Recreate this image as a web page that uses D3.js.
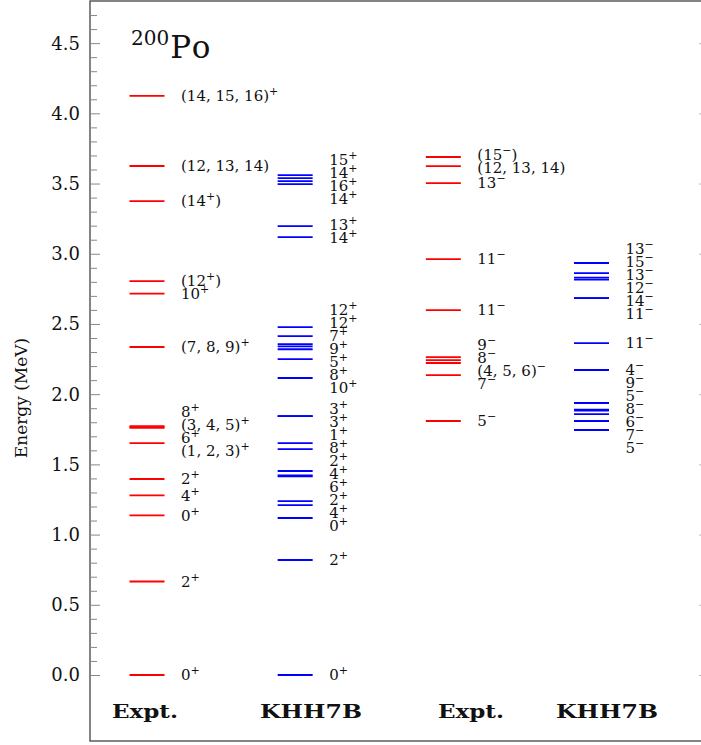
<!DOCTYPE html>
<html><head><meta charset="utf-8">
<script src="https://cdn.jsdelivr.net/npm/d3@7"></script>
<style>body{margin:0;background:#fff}svg{display:block}</style>
</head><body>
<svg id="chart" width="701" height="745"></svg>
<script>
// ---------- data ----------
const columns = ["Expt+", "KHH7B+", "Expt-", "KHH7B-"];
const columnNames = ["Expt.", "KHH7B", "Expt.", "KHH7B"];
const columnKinds = ["expt", "theory", "expt", "theory"];

const exptPosE = [0, 0.666, 1.137, 1.279, 1.396, 1.652, 1.760, 1.766, 1.772, 2.336, 2.716, 2.805, 3.375, 3.625, 4.125];
const exptPosJ = ["0^+", "2^+", "0^+", "4^+", "2^+", "(1, 2, 3)^+", "6^+", "(3, 4, 5)^+", "8^+", "(7, 8, 9)^+", "10^+", "(12^+)", "(14^+)", "(12, 13, 14)", "(14, 15, 16)^+"];

const khhPosE = [0, 0.819, 1.118, 1.210, 1.239, 1.415, 1.422, 1.453, 1.609, 1.652, 1.844, 1.844, 2.115, 2.250, 2.320, 2.340, 2.357, 2.414, 2.478, 3.119, 3.197, 3.496, 3.517, 3.539, 3.560];
const khhPosJ = ["0^+", "2^+", "0^+", "4^+", "2^+", "6^+", "4^+", "2^+", "8^+", "1^+", "3^+", "3^+", "10^+", "8^+", "5^+", "9^+", "7^+", "12^+", "12^+", "14^+", "13^+", "14^+", "16^+", "14^+", "15^+"];

const exptNegE = [1.809, 2.136, 2.222, 2.243, 2.264, 2.599, 2.962, 3.503, 3.624, 3.689];
const exptNegJ = ["5^−", "7^−", "(4, 5, 6)^−", "8^−", "9^−", "11^−", "11^−", "13^−", "(12, 13, 14)", "(15^−)"];

const khhNegE = [1.745, 1.809, 1.858, 1.883, 1.890, 1.937, 2.172, 2.364, 2.684, 2.684, 2.816, 2.830, 2.862, 2.934];
const khhNegJ = ["5^−", "7^−", "6^−", "8^−", "5^−", "9^−", "4^−", "11^−", "11^−", "14^−", "12^−", "13^−", "15^−", "13^−"];

const yTicks = [0.0, 0.5, 1.0, 1.5, 2.0, 2.5, 3.0, 3.5, 4.0, 4.5];
const nucleusMass = "200";
const nucleusSymbol = "Po";
const yTitle = "Energy (MeV)";

// ---------- layout ----------
const svg = d3.select("#chart");
const frame = {left: 90, right: 709, top: 1, bottom: 741};
const y = d3.scaleLinear().domain([-0.47, 4.8]).range([frame.bottom, frame.top]);
const x = d3.scalePoint().domain(columns).range([147, 591.5]);
const halfW = 17.5, labelDx = 34;
const colors = {expt: "#ff0000", theory: "#0000ff"};
const serif = "'DejaVu Serif', 'Liberation Serif', serif";

const sets = [
  {col: "Expt+", E: exptPosE, J: exptPosJ},
  {col: "KHH7B+", E: khhPosE, J: khhPosJ},
  {col: "Expt-", E: exptNegE, J: exptNegJ},
  {col: "KHH7B-", E: khhNegE, J: khhNegJ}
];

// frame
svg.append("rect").attr("x", frame.left).attr("y", frame.top)
  .attr("width", frame.right - frame.left).attr("height", frame.bottom - frame.top)
  .attr("fill", "none").attr("stroke", "#333").attr("stroke-width", 1.2);

// axes
const minorVals = d3.range(1, 48).map(d => d / 10).filter(v => Math.abs(v * 2 - Math.round(v * 2)) > 1e-6);
const axL = svg.append("g").attr("transform", `translate(${frame.left},0)`);
axL.call(d3.axisRight(y).tickValues(yTicks).tickSize(10).tickFormat(""));
axL.append("g").call(d3.axisRight(y).tickValues(minorVals).tickSize(7).tickFormat(""));
axL.selectAll(".domain").remove();
axL.selectAll("line").attr("stroke", "#888").attr("stroke-width", 1);
const axR = svg.append("g").attr("transform", `translate(${frame.right},0)`);
axR.call(d3.axisLeft(y).tickValues(yTicks).tickSize(10).tickFormat(""));
axR.append("g").call(d3.axisLeft(y).tickValues(minorVals).tickSize(7).tickFormat(""));
axR.selectAll(".domain").remove();
axR.selectAll("line").attr("stroke", "#bbb").attr("stroke-width", 1);

svg.append("g").selectAll("text").data(yTicks).join("text")
  .attr("x", 80).attr("y", d => y(d)).attr("dy", "0.36em")
  .attr("text-anchor", "end").attr("font-family", serif).attr("font-size", 18)
  .attr("fill", "#111").text(d => d.toFixed(1));

svg.append("text").attr("transform", `translate(27,${398}) rotate(-90)`)
  .attr("text-anchor", "middle").attr("font-family", serif).attr("font-size", 17)
  .attr("fill", "#111").text(yTitle);

// title
const title = svg.append("text").attr("x", 131).attr("y", 58).attr("font-family", serif).attr("fill", "#111");
title.append("tspan").attr("font-size", 20).attr("dy", -13).text(nucleusMass);
title.append("tspan").attr("font-size", 31).attr("dy", 13).attr("dx", 1).attr("letter-spacing", 2).text(nucleusSymbol);

// label spreading (keep labels apart, centered on their levels)
function spread(ys, gap) {
  const out = ys.slice();
  for (let it = 0; it < 400; it++) {
    let moved = false;
    for (let i = 1; i < out.length; i++) {
      const d = out[i - 1] - out[i];
      if (d < gap - 1e-3) {
        const s = (gap - d) / 2;
        out[i - 1] += s; out[i] -= s; moved = true;
      }
    }
    if (!moved) break;
  }
  return out;
}

function writeLabel(sel, s) {
  const parts = s.split("^");
  sel.append("tspan").text(parts[0]);
  for (let k = 1; k < parts.length; k++) {
    const sup = parts[k].charAt(0), rest = parts[k].slice(1);
    sel.append("tspan").attr("font-size", 11).attr("dy", -6).text(sup);
    if (rest.length) sel.append("tspan").attr("dy", 6).text(rest);
  }
}

sets.forEach((s, ci) => {
  const color = colors[columnKinds[ci]];
  const cx = x(s.col);
  const idx = d3.range(s.E.length).sort((a, b) => s.E[a] - s.E[b]);
  const g = svg.append("g");
  g.selectAll("line").data(idx).join("line")
    .attr("x1", cx - halfW).attr("x2", cx + halfW)
    .attr("y1", i => y(s.E[i])).attr("y2", i => y(s.E[i]))
    .attr("stroke", color).attr("stroke-width", 1.8);
  const ly = spread(idx.map(i => y(s.E[i])), 13);
  idx.forEach((i, k) => {
    const t = g.append("text").attr("x", cx + labelDx).attr("y", ly[k]).attr("dy", "0.35em")
      .attr("font-family", serif).attr("font-size", 15).attr("fill", "#111");
    writeLabel(t, s.J[i]);
  });
});

// column names
const nameX = [145, 311, 471, 607];
const nameW = {"Expt.": 66, "KHH7B": 102};
svg.append("g").selectAll("text").data(columnNames).join("text")
  .attr("x", (d, i) => nameX[i] - nameW[d] / 2).attr("y", 718)
  .attr("textLength", d => nameW[d]).attr("lengthAdjust", "spacingAndGlyphs")
  .attr("font-family", serif).attr("font-weight", "bold").attr("font-size", 19)
  .attr("fill", "#111").text(d => d);
</script>
</body></html>
